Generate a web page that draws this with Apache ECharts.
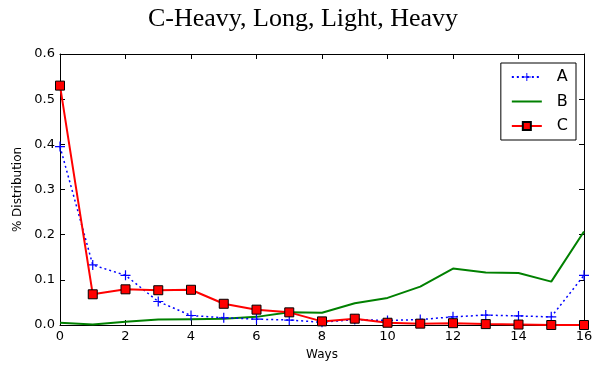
<!DOCTYPE html>
<html><head><meta charset="utf-8">
<script src="https://cdn.jsdelivr.net/npm/echarts@6/dist/echarts.min.js"></script>
<style>html,body{margin:0;padding:0;background:#fff}#c{width:606px;height:366px}</style>
</head><body><div id="c"></div>
<script>
const ways = [0,1,2,3,4,5,6,7,8,9,10,11,12,13,14,15,16];
const seriesA = [0.395,0.133,0.110,0.052,0.021,0.016,0.013,0.011,0.006,0.012,0.010,0.012,0.018,0.022,0.020,0.018,0.110];
const seriesB = [0.005,0.001,0.007,0.012,0.013,0.014,0.018,0.028,0.027,0.048,0.060,0.085,0.125,0.116,0.115,0.096,0.207];
const seriesC = [0.530,0.068,0.079,0.077,0.078,0.047,0.034,0.028,0.008,0.014,0.005,0.003,0.004,0.002,0.001,0.000,0.000];
const names = ['A','B','C'];
const pair = arr => ways.map((w,i)=>[w,arr[i]]);
const font = 'DejaVu Sans';
const plus = 'path://M4.4,0h1.2v4.4h4.4v1.2h-4.4v4.4h-1.2v-4.4h-4.4v-1.2h4.4z';
const lineIcon = 'path://M0,0h30v2h-30z';
const chart = echarts.init(document.getElementById('c'), null, {renderer:'canvas'});
const axisCommon = () => ({
  axisLine:{show:true,onZero:false,lineStyle:{color:'#000',width:1}},
  axisTick:{show:true,inside:true,length:5,lineStyle:{color:'#000'}},
  splitLine:{show:false}
});
chart.setOption({
  animation:false,
  backgroundColor:'#fff',
  title:{text:'C-Heavy, Long, Light, Heavy',left:298,textAlign:'center',top:1,
    textStyle:{fontFamily:'Liberation Serif',fontSize:26,fontWeight:'normal',color:'#000'}},
  grid:{left:60,right:22,top:54,bottom:41},
  legend:{orient:'vertical',right:30,top:63,
    data:[{name:'A'},{name:'B',icon:lineIcon},{name:'C'}],
    borderColor:'#000',borderWidth:1,padding:[6,8,6,10],itemGap:8.5,
    itemWidth:30,itemHeight:10,
    textStyle:{fontFamily:font,fontSize:16,color:'#000',padding:[0,0,0,10]}},
  xAxis:[
    Object.assign({type:'value',min:0,max:16,interval:2,name:'Ways',nameLocation:'middle',nameGap:24,
      nameTextStyle:{fontFamily:font,fontSize:12,color:'#000'},
      axisLabel:{fontFamily:font,fontSize:13,color:'#000',margin:5}},axisCommon()),
    Object.assign({type:'value',min:0,max:16,interval:2,position:'top',axisLabel:{show:false}},axisCommon())
  ],
  yAxis:[
    Object.assign({type:'value',min:0,max:0.6,interval:0.1,name:'% Distribution',nameLocation:'middle',nameGap:33,
      nameTextStyle:{fontFamily:font,fontSize:12,color:'#000'},
      axisLabel:{fontFamily:font,fontSize:13,color:'#000',margin:5,formatter:v=>v.toFixed(1)}},axisCommon()),
    Object.assign({type:'value',min:0,max:0.6,interval:0.1,position:'right',axisLabel:{show:false}},axisCommon())
  ],
  series:[
    {name:'A',type:'line',data:pair(seriesA),symbol:plus,symbolSize:10,showAllSymbol:true,
      lineStyle:{color:'#0000ff',width:1.5,type:[2,3]},itemStyle:{color:'#0000ff'},z:3},
    {name:'B',type:'line',data:pair(seriesB),symbol:'none',
      lineStyle:{color:'#008000',width:2},itemStyle:{color:'#008000'},z:2},
    {name:'C',type:'line',data:pair(seriesC),symbol:'rect',symbolSize:9,showAllSymbol:true,
      lineStyle:{color:'#ff0000',width:2},itemStyle:{color:'#ff0000',borderColor:'#000',borderWidth:1},z:4}
  ]
});
</script></body></html>
